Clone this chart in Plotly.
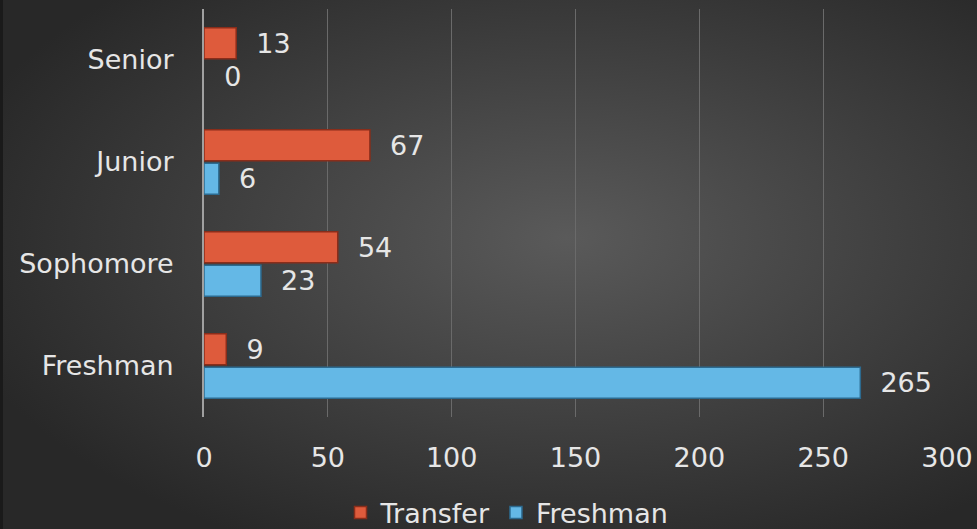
import base64
import plotly.graph_objects as go

categories = ["Freshman", "Sophomore", "Junior", "Senior"]
transfer = [9, 54, 67, 13]
freshman = [265, 23, 6, 0]
x_ticks = [0, 50, 100, 150, 200, 250, 300]

W, H = 977, 529
ML, MR, MT, MB = 204, 30, 9, 112
pw, ph = W - ML - MR, H - MT - MB

svg = ('<svg xmlns="http://www.w3.org/2000/svg" width="977" height="529" preserveAspectRatio="none">'
       '<defs><radialGradient id="g" cx="58%" cy="45%" r="65%">'
       '<stop offset="0" stop-color="#5a5a5a"/><stop offset="1" stop-color="#282828"/>'
       '</radialGradient></defs><rect width="977" height="529" fill="url(#g)"/>'
       '<rect width="3" height="529" fill="#1a1a1a"/></svg>')
uri = "data:image/svg+xml;base64," + base64.b64encode(svg.encode()).decode()

font = "DejaVu Sans"
txtcol = "#e6e6e6"


def line_widths(vals):
    return [0 if v == 0 else 1.5 for v in vals]


fig = go.Figure()
fig.add_trace(go.Bar(
    y=categories, x=freshman, orientation="h", name="Freshman",
    marker=dict(color="#64b8e6", line=dict(color="#2c6a8f", width=line_widths(freshman))),
    text=freshman, texttemplate="  %{x}", textposition="outside",
    textfont=dict(family=font, size=27, color=txtcol), cliponaxis=False,
    legendrank=2,
))
fig.add_trace(go.Bar(
    y=categories, x=transfer, orientation="h", name="Transfer",
    marker=dict(color="#de5b3c", line=dict(color="#8a2d1a", width=line_widths(transfer))),
    text=transfer, texttemplate="  %{x}", textposition="outside",
    textfont=dict(family=font, size=27, color=txtcol), cliponaxis=False,
    legendrank=1,
))

fig.update_layout(
    width=W, height=H,
    margin=dict(l=ML, r=MR, t=MT, b=MB, pad=0, autoexpand=False),
    paper_bgcolor="#3a3a3a", plot_bgcolor="rgba(0,0,0,0)",
    barmode="group", bargap=0.34, bargroupgap=0.08,
    font=dict(family=font, size=27, color=txtcol),
    showlegend=True,
    legend=dict(orientation="h", xref="container", yref="container",
                x=507 / W, xanchor="center", y=1 - 513 / H, yanchor="middle",
                font=dict(family=font, size=27, color=txtcol),
                bgcolor="rgba(0,0,0,0)", itemwidth=30, tracegroupgap=0),
    images=[dict(source=uri, xref="paper", yref="paper",
                 x=-ML / pw, y=1 + MT / ph, sizex=W / pw, sizey=H / ph,
                 sizing="stretch", xanchor="left", yanchor="top", layer="below")],
    xaxis=dict(range=[0, 300], tickvals=x_ticks, showgrid=True, automargin=False,
               gridcolor="#6a6a6a", gridwidth=1, zeroline=False,
               showline=False, ticks="", ticklabelstandoff=22,
               tickfont=dict(family=font, size=27, color=txtcol), fixedrange=True),
    yaxis=dict(categoryorder="array", categoryarray=categories, automargin=False,
               showgrid=False, zeroline=False, showline=True,
               linecolor="#a0a0a0", linewidth=2, ticks="",
               ticklabelstandoff=23,
               tickfont=dict(family=font, size=27, color=txtcol), fixedrange=True),
)

fig.write_html("out.html")
